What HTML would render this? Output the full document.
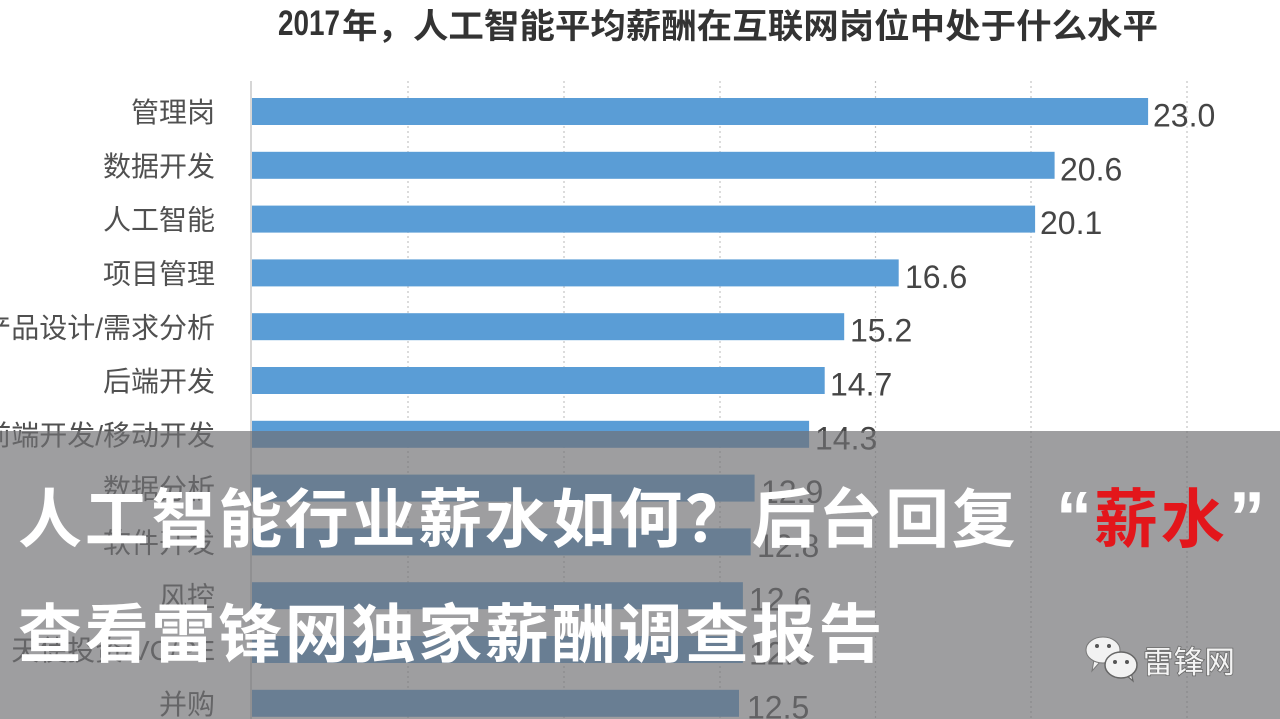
<!DOCTYPE html>
<html>
<head>
<meta charset="utf-8">
<style>
  html,body{margin:0;padding:0;background:#fff;}
  body{width:1280px;height:719px;overflow:hidden;}
  svg{display:block;}
  .cat{font-family:"Liberation Sans","Noto Sans CJK SC",sans-serif;font-size:28px;fill:#505050;}
  .val{font-family:"Liberation Sans",sans-serif;font-size:32px;fill:#454545;}
  .title{font-family:"Liberation Sans","Noto Sans CJK SC",sans-serif;font-weight:bold;fill:#333;}
  .big{font-family:"Noto Sans CJK SC","Liberation Sans",sans-serif;font-weight:bold;font-size:64px;fill:#fff;letter-spacing:2.7px;}
</style>
</head>
<body>
<svg width="1280" height="719" viewBox="0 0 1280 719" xmlns="http://www.w3.org/2000/svg">
  <rect x="0" y="0" width="1280" height="719" fill="#ffffff"/>

  <!-- title -->
  <text class="title" x="278" y="35" font-size="35" textLength="62" lengthAdjust="spacingAndGlyphs">2017</text>
  <text class="title" x="342" y="38" font-size="34" textLength="816" lengthAdjust="spacingAndGlyphs">年，人工智能平均薪酬在互联网岗位中处于什么水平</text>

  <!-- gridlines -->
  <g stroke="#c4c4c4" stroke-width="1.2" stroke-dasharray="2,3">
    <line x1="408" y1="81" x2="408" y2="719"/>
    <line x1="564" y1="81" x2="564" y2="719"/>
    <line x1="720" y1="81" x2="720" y2="719"/>
    <line x1="875.5" y1="81" x2="875.5" y2="719"/>
    <line x1="1031" y1="81" x2="1031" y2="719"/>
    <line x1="1187" y1="81" x2="1187" y2="719"/>
  </g>
  <line x1="251" y1="81" x2="251" y2="719" stroke="#c8c8c8" stroke-width="1.5"/>

  <!-- bars -->
  <g fill="#5a9dd6">
    <rect x="252" y="98" width="896.1" height="27"/>
    <rect x="252" y="151.8" width="802.6" height="27"/>
    <rect x="252" y="205.6" width="783.1" height="27"/>
    <rect x="252" y="259.4" width="646.7" height="27"/>
    <rect x="252" y="313.2" width="592.2" height="27"/>
    <rect x="252" y="367" width="572.7" height="27"/>
    <rect x="252" y="420.8" width="557.1" height="27"/>
    <rect x="252" y="474.6" width="502.6" height="27"/>
    <rect x="252" y="528.4" width="498.7" height="27"/>
    <rect x="252" y="582.2" width="490.9" height="27"/>
    <rect x="252" y="636" width="490.9" height="27"/>
    <rect x="252" y="689.8" width="487" height="27"/>
  </g>

  <!-- category labels -->
  <g class="cat" text-anchor="end">
    <text x="215" y="122.1">管理岗</text>
    <text x="215" y="175.9">数据开发</text>
    <text x="215" y="229.7">人工智能</text>
    <text x="215" y="283.5">项目管理</text>
    <text x="215" y="337.3">产品设计/需求分析</text>
    <text x="215" y="391.1">后端开发</text>
    <text x="215" y="444.9">前端开发/移动开发</text>
    <text x="215" y="498.7">数据分析</text>
    <text x="215" y="552.5">软件开发</text>
    <text x="215" y="606.3">风控</text>
    <text x="215" y="660.1">天使投资/VC/PE</text>
    <text x="215" y="713.9">并购</text>
  </g>

  <!-- value labels -->
  <g class="val">
    <text x="1153" y="126.5">23.0</text>
    <text x="1060" y="180.3">20.6</text>
    <text x="1040" y="234.1">20.1</text>
    <text x="905" y="287.9">16.6</text>
    <text x="850" y="341.7">15.2</text>
    <text x="830" y="395.5">14.7</text>
    <text x="815" y="449.3">14.3</text>
    <text x="761" y="503.1">12.9</text>
    <text x="757" y="556.9">12.8</text>
    <text x="749" y="610.7">12.6</text>
    <text x="749" y="664.5">12.6</text>
    <text x="747" y="718.3">12.5</text>
  </g>

  <!-- grey overlay -->
  <rect x="0" y="431" width="1280" height="288" fill="rgb(112,112,115)" fill-opacity="0.68"/>

  <!-- big headline -->
  <text class="big" x="18" y="542">人工智能行业薪水如何？后台回复</text>
  <text x="1092" y="542" text-anchor="end" font-family="Liberation Sans, sans-serif" font-weight="bold" font-size="72" fill="#fff">“</text>
  <text class="big" x="1094" y="542" style="fill:#e3161b">薪水</text>
  <text x="1229" y="542" font-family="Liberation Sans, sans-serif" font-weight="bold" font-size="72" fill="#fff">”</text>
  <text class="big" x="18" y="657">查看雷锋网独家薪酬调查报告</text>

  <!-- wechat logo -->
  <g>
    <path d="M1092 671 L1094 660 L1100 662 Z" fill="#f2f2f2" stroke="#777" stroke-width="1"/>
    <ellipse cx="1103" cy="650" rx="17" ry="13" fill="#f2f2f2" stroke="#777" stroke-width="1"/>
    <circle cx="1097" cy="646" r="2" fill="#555"/>
    <circle cx="1109" cy="646" r="2" fill="#555"/>
    <path d="M1133 681 L1131 672 L1126 675 Z" fill="#f2f2f2" stroke="#666" stroke-width="1.2"/>
    <ellipse cx="1121" cy="665" rx="16" ry="13" fill="#f2f2f2" stroke="#666" stroke-width="1.5"/>
    <circle cx="1115" cy="662" r="2" fill="#555"/>
    <circle cx="1127" cy="662" r="2" fill="#555"/>
  </g>
  <text x="1143" y="673" font-family="Liberation Sans, Noto Sans CJK SC, sans-serif" font-size="31" fill="#f4f4f4" stroke="#6a6a6a" stroke-width="1.6" paint-order="stroke" textLength="92" lengthAdjust="spacingAndGlyphs">雷锋网</text>
</svg>
</body>
</html>
